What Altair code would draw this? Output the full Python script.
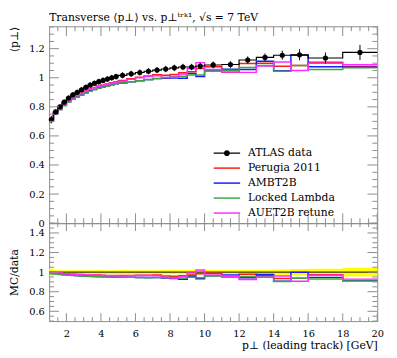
import altair as alt
import pandas as pd

# ---------------- data ----------------
bin_lo = [1.0, 1.25, 1.5, 1.75, 2.0, 2.25, 2.5, 2.75, 3.0, 3.25, 3.5, 3.75, 4.0, 4.25, 4.5, 4.75,
          5.0, 5.5, 6.0, 6.5, 7.0, 7.5, 8.0, 8.5, 9.0, 9.5, 10.0, 11.0, 12.0, 13.0, 14.0, 15.0, 16.0, 18.0]
bin_hi = [1.25, 1.5, 1.75, 2.0, 2.25, 2.5, 2.75, 3.0, 3.25, 3.5, 3.75, 4.0, 4.25, 4.5, 4.75, 5.0,
          5.5, 6.0, 6.5, 7.0, 7.5, 8.0, 8.5, 9.0, 9.5, 10.0, 11.0, 12.0, 13.0, 14.0, 15.0, 16.0, 18.0, 20.0]

atlas = [0.712, 0.765, 0.800, 0.833, 0.861, 0.883, 0.900, 0.917, 0.934, 0.950, 0.962, 0.973, 0.982, 0.991, 1.000, 1.008,
         1.017, 1.027, 1.036, 1.045, 1.053, 1.060, 1.068, 1.074, 1.074, 1.081,
         1.088, 1.091, 1.122, 1.140, 1.155, 1.158, 1.136, 1.174]
atlas_err = [0.026, 0.017, 0.016, 0.017, 0.017, 0.018, 0.018, 0.018, 0.019, 0.019, 0.019, 0.020, 0.020, 0.020, 0.020, 0.020,
             0.021, 0.021, 0.021, 0.021, 0.021, 0.022, 0.022, 0.022, 0.022, 0.022,
             0.023, 0.023, 0.025, 0.027, 0.031, 0.038, 0.038, 0.052]
perugia = [0.712, 0.761, 0.792, 0.820, 0.845, 0.864, 0.878, 0.894, 0.909, 0.923, 0.933, 0.944, 0.951, 0.958, 0.966, 0.973,
           0.981, 0.993, 1.003, 1.012, 1.021, 1.018, 1.023, 1.034, 1.042, 1.064,
           1.075, 1.037, 1.098, 1.100, 1.079, 1.085, 1.107, 1.075]
ambt2b = [0.705, 0.754, 0.784, 0.812, 0.835, 0.854, 0.868, 0.882, 0.897, 0.910, 0.920, 0.929, 0.936, 0.943, 0.951, 0.958,
          0.964, 0.973, 0.980, 0.988, 0.995, 0.996, 0.999, 0.996, 1.030, 1.008,
          1.048, 1.059, 1.057, 1.113, 1.048, 1.155, 1.075, 1.072]
locked = [0.701, 0.750, 0.780, 0.808, 0.833, 0.852, 0.866, 0.880, 0.895, 0.908, 0.919, 0.927, 0.935, 0.942, 0.950, 0.958,
          0.964, 0.972, 0.979, 0.986, 0.994, 1.002, 1.009, 1.010, 1.019, 1.019,
          1.046, 1.052, 1.071, 1.085, 1.045, 1.085, 1.057, 1.068]
auet2b = [0.712, 0.761, 0.792, 0.820, 0.844, 0.863, 0.878, 0.892, 0.908, 0.922, 0.931, 0.941, 0.948, 0.954, 0.962, 0.970,
          0.976, 0.989, 1.000, 1.008, 1.013, 1.002, 1.004, 1.026, 1.064, 1.104,
          1.057, 1.040, 1.037, 1.080, 1.109, 1.050, 1.100, 1.090]

names = ["ATLAS data", "Perugia 2011", "AMBT2B", "Locked Lambda", "AUET2B retune"]
colors = ["#000000", "#ff1a1a", "#1a1aff", "#3fa63f", "#ff2bff"]
mc_series = [perugia, ambt2b, locked, auet2b]

main_y_major = [0, 0.2, 0.4, 0.6, 0.8, 1.0, 1.2]
main_y_minor = [0.05, 0.1, 0.15, 0.25, 0.3, 0.35, 0.45, 0.5, 0.55, 0.65, 0.7, 0.75,
                0.85, 0.9, 0.95, 1.05, 1.1, 1.15, 1.25, 1.3, 1.35]
ratio_y_major = [0.6, 0.8, 1.0, 1.2, 1.4]
ratio_y_minor = [0.5, 0.55, 0.65, 0.7, 0.75, 0.85, 0.9, 0.95, 1.05, 1.1, 1.15, 1.25, 1.3, 1.35, 1.45, 1.5]
x_major = [2, 4, 6, 8, 10, 12, 14, 16, 18, 20]
x_minor = [1.5, 2.5, 3, 3.5, 4.5, 5, 5.5, 6.5, 7, 7.5, 8.5, 9, 9.5, 10.5, 11, 11.5, 12.5, 13, 13.5,
           14.5, 15, 15.5, 16.5, 17, 17.5, 18.5, 19, 19.5]

# ---------------- layout / style ----------------
W, H1, H2 = 335, 201, 100
FRAME = "#8c8c8c"
FONT = "DejaVu Serif"
FS = 10

xscale = alt.Scale(domain=[1, 20], nice=False, zero=False)
y1scale = alt.Scale(domain=[0, 1.354], nice=False, zero=False)
y2scale = alt.Scale(domain=[0.5, 1.5], nice=False, zero=False)

axis_common = dict(ticks=False, domain=False, grid=False, labelOverlap=False, labelFlush=False,
                   labelFont=FONT, labelFontSize=FS, labelColor="black",
                   titleFont=FONT, titleFontSize=FS + 1, titleColor="black", titleFontWeight="normal")

ax_x_main = alt.Axis(labels=False, ticks=False, domain=False, grid=False, title=None)
ax_y_main = alt.Axis(values=main_y_major, format="~g", labelPadding=5, title="⟨p⊥⟩",
                     titleAnchor="end", titlePadding=9, **axis_common)
ax_x_rat = alt.Axis(values=x_major, format="~g", labelPadding=8,
                    title="p⊥ (leading track) [GeV]", titleAnchor="end", titlePadding=1,
                    **axis_common)
ax_y_rat = alt.Axis(values=ratio_y_major, format="~g", labelPadding=5, title="MC/data",
                    titlePadding=9, **axis_common)


def step_df(vals):
    return pd.DataFrame({"x": bin_lo + [bin_hi[-1]], "y": list(vals) + [vals[-1]]})


def yticks(values, length, scale, ax):
    df = pd.DataFrame({"v": values})
    left = alt.Chart(df).mark_rule(color=FRAME, strokeWidth=1).encode(
        y=alt.Y("v:Q", scale=scale, axis=ax), x=alt.value(0), x2=alt.value(length))
    right = alt.Chart(df).mark_rule(color=FRAME, strokeWidth=1).encode(
        y=alt.Y("v:Q", scale=scale, axis=ax), x=alt.value(W - length), x2=alt.value(W))
    return [left, right]


def xticks(values, length, h, ax):
    df = pd.DataFrame({"v": values})
    bottom = alt.Chart(df).mark_rule(color=FRAME, strokeWidth=1).encode(
        x=alt.X("v:Q", scale=xscale, axis=ax), y=alt.value(h), y2=alt.value(h - length))
    top = alt.Chart(df).mark_rule(color=FRAME, strokeWidth=1).encode(
        x=alt.X("v:Q", scale=xscale, axis=ax), y=alt.value(0), y2=alt.value(length))
    return [bottom, top]


# ---------------- main panel ----------------
x_main = alt.X("x:Q", scale=xscale, axis=ax_x_main)
y_main = alt.Y("y:Q", scale=y1scale, axis=ax_y_main)

main_layers = []
for vals, col in zip(mc_series, colors[1:]):
    main_layers.append(alt.Chart(step_df(vals)).mark_line(interpolate="step-after", color=col,
                                                          strokeWidth=1.5).encode(x=x_main, y=y_main))

main_layers.append(alt.Chart(step_df(atlas)).mark_line(interpolate="step-after", color="black",
                                                       strokeWidth=1.2).encode(x=x_main, y=y_main))

pts = pd.DataFrame({
    "xc": [(a + b) / 2 for a, b in zip(bin_lo, bin_hi)],
    "y": atlas,
    "lo": [v - e for v, e in zip(atlas, atlas_err)],
    "hi": [v + e for v, e in zip(atlas, atlas_err)],
})
main_layers.append(alt.Chart(pts).mark_rule(color="black", strokeWidth=1).encode(
    x=alt.X("xc:Q", scale=xscale, axis=ax_x_main), y=alt.Y("lo:Q", scale=y1scale, axis=ax_y_main),
    y2="hi:Q"))
main_layers.append(alt.Chart(pts).mark_point(filled=True, color="black", size=28, opacity=1).encode(
    x=alt.X("xc:Q", scale=xscale, axis=ax_x_main), y=alt.Y("y:Q", scale=y1scale, axis=ax_y_main)))

main_layers += yticks(main_y_major, 10, y1scale, ax_y_main) + yticks(main_y_minor, 5, y1scale, ax_y_main)
main_layers += xticks(x_major, 10, H1, ax_x_main) + xticks(x_minor, 5, H1, ax_x_main)

# legend (symbols: line, and line + dot for data)
line_path = "M-2.7,-0.15H2.7V0.15H-2.7Z"
data_path = "M-2.7,-0.15H2.7V0.15H-2.7Z M0.6,0A0.6,0.6 0 1 1 -0.6,0A0.6,0.6 0 1 1 0.6,0Z"
paths = [data_path] + [line_path] * 4
leg = alt.Legend(title=None, orient="none", legendX=176, legendY=124, symbolSize=100,
                 symbolStrokeWidth=0, symbolOpacity=1, labelFont=FONT, labelFontSize=FS + 1,
                 labelOffset=16, rowPadding=3.3, padding=0, labelColor="black")
legend_layer = alt.Chart(pd.DataFrame({"series": names})).mark_point(
    filled=True, size=100, opacity=1).encode(
    color=alt.Color("series:N", scale=alt.Scale(domain=names, range=colors), legend=leg),
    shape=alt.Shape("series:N", scale=alt.Scale(domain=names, range=paths), legend=leg),
).transform_filter("false")
main_layers.append(legend_layer)

main = alt.layer(*main_layers).properties(
    width=W, height=H1,
    title=alt.TitleParams(text="Transverse ⟨p⊥⟩ vs. p⊥ᵗʳᵏ¹, √s = 7 TeV", anchor="start", frame="group",
                          font=FONT, fontSize=FS + 1, fontWeight="normal", offset=3, color="black"))

# ---------------- ratio panel ----------------
x_rat = alt.X("x:Q", scale=xscale, axis=ax_x_rat)
y_rat = alt.Y("y:Q", scale=y2scale, axis=ax_y_rat)

band = pd.DataFrame({
    "x": bin_lo + [bin_hi[-1]],
    "lo": [1 - e / v for v, e in zip(atlas, atlas_err)] + [1 - atlas_err[-1] / atlas[-1]],
    "hi": [1 + e / v for v, e in zip(atlas, atlas_err)] + [1 + atlas_err[-1] / atlas[-1]],
})
rat_layers = [alt.Chart(band).mark_area(interpolate="step-after", color="#ffff00", opacity=1).encode(
    x=x_rat, y=alt.Y("lo:Q", scale=y2scale, axis=ax_y_rat), y2="hi:Q")]
rat_layers.append(alt.Chart(step_df([v / v for v in atlas])).mark_line(
    interpolate="step-after", color="black", strokeWidth=1).encode(x=x_rat, y=y_rat))
for vals, col in zip(mc_series, colors[1:]):
    ratio_vals = [m / d for m, d in zip(vals, atlas)]
    rat_layers.append(alt.Chart(step_df(ratio_vals)).mark_line(
        interpolate="step-after", color=col, strokeWidth=1.5).encode(x=x_rat, y=y_rat))

rat_layers += yticks(ratio_y_major, 10, y2scale, ax_y_rat) + yticks(ratio_y_minor, 5, y2scale, ax_y_rat)
rat_layers += xticks(x_major, 8, H2, ax_x_rat) + xticks(x_minor, 4, H2, ax_x_rat)

ratio = alt.layer(*rat_layers).properties(width=W, height=H2)

chart = alt.vconcat(main, ratio, spacing=0, bounds="flush").properties(
    padding={"left": 0, "top": 0, "right": 5, "bottom": 3},
).configure(font=FONT).configure_view(stroke=FRAME, strokeWidth=1).configure_axis(labelOverlap=False)

chart.save("out.html", embed_options={"renderer": "svg", "actions": False})
